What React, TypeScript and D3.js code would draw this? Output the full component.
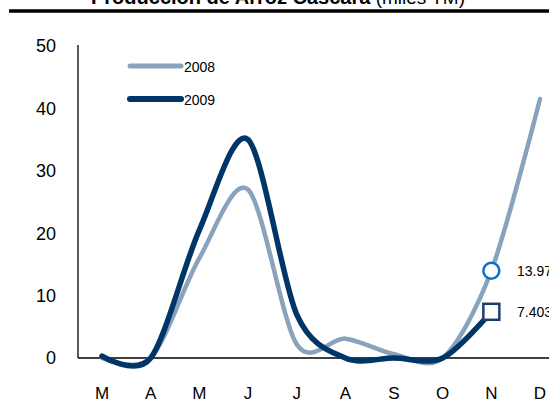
import React from 'react';
import * as d3 from 'd3';

const months = ['M', 'A', 'M', 'J', 'J', 'A', 'S', 'O', 'N', 'D'];
const values2008 = [0, 0, 16, 27, 2.2, 3.1, 0.6, 0, 13.97, 41.5];
const values2009 = [0.3, 0, 20.5, 35, 7, 0, 0, 0, 7.403];
const yTicks = [0, 10, 20, 30, 40, 50];
const seriesNames = ['2008', '2009'];

const W = 549;
const H = 403;
const light = '#8aa3bd';
const dark = '#003567';

const App: React.FC = () => {
  const x = d3.scalePoint<number>().domain(d3.range(months.length)).range([102, 540]);
  const y = d3.scaleLinear().domain([0, 50]).range([358, 46]);

  // Excel-like smoothed line
  const line = d3
    .line<number>()
    .x((_, i) => x(i)!)
    .y(d => y(d))
    .curve(d3.curveCardinal.tension(0.1));

  const n08 = 8;
  const last09 = values2009.length - 1;
  const nx = x(8)!;

  return (
    <svg width={W} height={H} style={{ position: 'absolute', left: 0, top: 0 }} fontFamily="Arial, 'Liberation Sans', sans-serif">
      {/* title, cut at the top */}
      <text x={278} y={4} textAnchor="middle" fontSize={19} fill="#000">
        <tspan fontWeight="bold" fontSize={20}>Producción de Arroz Cáscara</tspan>
        <tspan> (miles TM)</tspan>
      </text>
      <line x1={9} x2={W} y1={11} y2={11} stroke="#000" strokeWidth={3.5} />

      {/* axes */}
      <line x1={78} x2={78} y1={45} y2={358} stroke="#000" strokeWidth={1.3} />
      <line x1={78} x2={W} y1={358} y2={358} stroke="#000" strokeWidth={1.3} />
      {yTicks.map(t => (
        <text key={t} x={56} y={y(t)} dy="0.35em" textAnchor="end" fontSize={18} fill="#000">
          {t}
        </text>
      ))}
      {months.map((m, i) => (
        <text key={i} x={x(i)} y={393} dy="0.35em" textAnchor="middle" fontSize={17} fill="#000">
          {m}
        </text>
      ))}

      {/* series */}
      <path d={line(values2008) ?? ''} fill="none" stroke={light} strokeWidth={4.5} strokeLinecap="round" />
      <path d={line(values2009) ?? ''} fill="none" stroke={dark} strokeWidth={5.5} strokeLinecap="round" />

      {/* end markers */}
      <circle cx={nx} cy={y(values2008[n08])} r={8} fill="#fff" stroke="#0a6fd0" strokeWidth={2.5} />
      <rect x={nx - 8} y={y(values2009[last09]) - 8} width={16} height={16} fill="#fff" stroke="#1d3f6e" strokeWidth={2.5} />
      <text x={517} y={y(values2008[n08])} dy="0.35em" fontSize={14} fill="#000">
        {values2008[n08]}
      </text>
      <text x={517} y={y(values2009[last09])} dy="0.35em" fontSize={14} fill="#000">
        {values2009[last09]}
      </text>

      {/* legend */}
      {seriesNames.map((s, i) => (
        <g key={s}>
          <line
            x1={130}
            x2={181}
            y1={66 + i * 33}
            y2={66 + i * 33}
            stroke={i === 0 ? light : dark}
            strokeWidth={i === 0 ? 5 : 6}
            strokeLinecap="round"
          />
          <text x={184} y={67 + i * 33} dy="0.35em" fontSize={14} fill="#000">
            {s}
          </text>
        </g>
      ))}
    </svg>
  );
};

export default App;
